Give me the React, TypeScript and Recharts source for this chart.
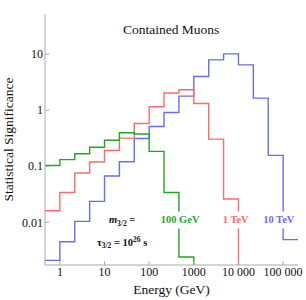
import { LineChart, Line, XAxis, YAxis, ReferenceDot } from "recharts";

const FONT = "'Liberation Serif', 'Times New Roman', serif";
const FRAME = "#a9a9a9";
const GREEN = "#1fa81f";
const RED = "#ff6b6b";
const BLUE = "#6a6aff";

// bin edges in GeV (three bins per decade)
const edges = [0.4642, 1, 2.154, 4.642, 10, 21.54, 46.42, 100, 215.4, 464.2, 1000, 2154, 4642, 10000, 21544, 46416, 100000, 215443];

// significance per bin, 0 = empty bin
const gev100 = [0.103, 0.131, 0.167, 0.218, 0.29, 0.395, 0.375, 0.184, 0.0341, 0.0024, 0, 0, 0, 0, 0, 0, 0];
const tev1 = [0.0161, 0.0341, 0.0757, 0.119, 0.191, 0.318, 0.579, 1.15, 2.02, 2.31, 1.32, 0.305, 0.026, 0, 0, 0, 0];
const tev10 = [0.00209, 0.00451, 0.0104, 0.0236, 0.0668, 0.12, 0.313, 0.512, 0.91, 1.78, 3.99, 7.91, 10.1, 6.44, 1.64, 0.156, 0.0049];

const xMajor = [1, 10, 100, 1000, 10000, 100000];
const yMajor = [0.01, 0.1, 1, 10];
const X_DOMAIN: [number, number] = [0.4642, 215443];
const Y_DOMAIN: [number, number] = [0.00173, 52];
const EMPTY = 1e-4; // sits below the frame, gets clipped

function minorTicks([lo, hi]: [number, number]) {
  const out: number[] = [];
  for (let p = Math.floor(Math.log10(lo)); p <= Math.ceil(Math.log10(hi)); p++) {
    for (let m = 2; m <= 9; m++) {
      const v = m * Math.pow(10, p);
      if (v >= lo && v <= hi) out.push(v);
    }
  }
  return out;
}
const xMinor = minorTicks(X_DOMAIN);
const yMinor = minorTicks(Y_DOMAIN);

const pick = (arr: number[], i: number) => {
  const v = arr[Math.min(i, arr.length - 1)];
  return v > 0 ? v : EMPTY;
};
const data = edges.map((e, i) => ({ e, g: pick(gev100, i), r: pick(tev1, i), b: pick(tev10, i) }));

const fmtX = (v: number) => (v >= 10000 ? String(v).replace(/\B(?=(\d{3})+$)/g, " ") : String(v));

const tickStyle = { fontSize: 12, fill: "#111", fontFamily: FONT };

const PlotTitle = ({ viewBox }: any) => (
  <text x={viewBox.x} y={viewBox.y + 4.5} textAnchor="middle" fontFamily={FONT} fontSize={13.5} fill="#111">
    Contained Muons
  </text>
);

const XTitle = ({ viewBox }: any) => (
  <text x={viewBox.x + viewBox.width / 2} y={viewBox.y + 29} textAnchor="middle" fontFamily={FONT} fontSize={13.5} fill="#111">
    Energy (GeV)
  </text>
);

const YTitle = ({ viewBox }: any) => {
  const x = 13;
  const y = viewBox.y + viewBox.height / 2;
  return (
    <text x={x} y={y} transform={`rotate(-90 ${x} ${y})`} textAnchor="middle" fontFamily={FONT} fontSize={13.5} fill="#111">
      Statistical Significance
    </text>
  );
};

const Tag = ({ viewBox, text, color, w }: any) => (
  <g>
    <rect x={viewBox.x - w / 2} y={viewBox.y - 8} width={w} height={17} fill="#fff" />
    <text x={viewBox.x} y={viewBox.y + 3.7} textAnchor="middle" fontFamily={FONT} fontWeight="bold" fontSize={10.5} fill={color}>
      {text}
    </text>
  </g>
);

const MassNote = ({ viewBox }: any) => (
  <text x={viewBox.x} y={viewBox.y + 3.7} textAnchor="middle" fontFamily={FONT} fontWeight="bold" fontSize={10.5} fill="#111">
    <tspan fontStyle="italic">m</tspan>
    <tspan fontSize={7.5} dy={2.5}>3/2</tspan>
    <tspan dy={-2.5}> =</tspan>
  </text>
);

const LifeNote = ({ viewBox }: any) => (
  <text x={viewBox.x} y={viewBox.y + 3.7} textAnchor="middle" fontFamily={FONT} fontWeight="bold" fontSize={10.5} fill="#111">
    <tspan>τ</tspan>
    <tspan fontSize={7.5} dy={2.5}>3/2</tspan>
    <tspan dy={-2.5}> = 10</tspan>
    <tspan fontSize={7.5} dy={-4}>26</tspan>
    <tspan dy={4}> s</tspan>
  </text>
);

export default function App() {
  return (
    <div style={{ position: "absolute", left: 0, top: 0 }}>
      <LineChart width={306} height={300} data={data} margin={{ top: 14, right: 8, bottom: 0, left: 0 }}>
        {/* minor ticks first so they sit right on the frame */}
        <XAxis xAxisId="xm" dataKey="e" type="number" scale="log" domain={X_DOMAIN} allowDataOverflow
          ticks={xMinor} interval={0} tick={false} tickSize={-2} tickLine={{ stroke: FRAME }} axisLine={false} height={0} />
        <XAxis xAxisId="x" dataKey="e" type="number" scale="log" domain={X_DOMAIN} allowDataOverflow
          ticks={xMajor} interval={0} tickFormatter={fmtX} tick={tickStyle} tickSize={-4} tickMargin={6}
          tickLine={{ stroke: FRAME }} axisLine={{ stroke: FRAME }} height={35} label={<XTitle />} />
        <XAxis xAxisId="xtm" orientation="top" dataKey="e" type="number" scale="log" domain={X_DOMAIN} allowDataOverflow
          ticks={xMinor} interval={0} tick={false} tickSize={-2} tickLine={{ stroke: FRAME }} axisLine={false} height={0} />
        <XAxis xAxisId="xt" orientation="top" dataKey="e" type="number" scale="log" domain={X_DOMAIN} allowDataOverflow
          ticks={xMajor} interval={0} tick={false} tickSize={-4} tickLine={{ stroke: FRAME }} axisLine={{ stroke: FRAME }}
          height={0} />

        <YAxis yAxisId="ym" type="number" scale="log" domain={Y_DOMAIN} allowDataOverflow
          ticks={yMinor} interval={0} tick={false} tickSize={-2} tickLine={{ stroke: FRAME }} axisLine={false} width={0} />
        <YAxis yAxisId="y" type="number" scale="log" domain={Y_DOMAIN} allowDataOverflow
          ticks={yMajor} interval={0} tick={tickStyle} tickSize={-4} tickMargin={6}
          tickLine={{ stroke: FRAME }} axisLine={{ stroke: FRAME }} width={45} label={<YTitle />} />
        <YAxis yAxisId="yrm" orientation="right" type="number" scale="log" domain={Y_DOMAIN} allowDataOverflow
          ticks={yMinor} interval={0} tick={false} tickSize={-2} tickLine={{ stroke: FRAME }} axisLine={false} width={0} />
        <YAxis yAxisId="yr" orientation="right" type="number" scale="log" domain={Y_DOMAIN} allowDataOverflow
          ticks={yMajor} interval={0} tick={false} tickSize={-4} tickLine={{ stroke: FRAME }} axisLine={{ stroke: FRAME }} width={0} />

        <Line xAxisId="x" yAxisId="y" type="stepAfter" dataKey="b" stroke={BLUE} strokeWidth={1.4} dot={false} isAnimationActive={false} />
        <Line xAxisId="x" yAxisId="y" type="stepAfter" dataKey="r" stroke={RED} strokeWidth={1.4} dot={false} isAnimationActive={false} />
        <Line xAxisId="x" yAxisId="y" type="stepAfter" dataKey="g" stroke={GREEN} strokeWidth={1.4} dot={false} isAnimationActive={false} />

        <ReferenceDot xAxisId="x" yAxisId="y" x={311} y={27.5} r={0} fill="none" stroke="none" label={<PlotTitle />} />
        <ReferenceDot xAxisId="x" yAxisId="y" x={24.8} y={0.0112} r={0} fill="none" stroke="none" label={<MassNote />} />
        <ReferenceDot xAxisId="x" yAxisId="y" x={24.8} y={0.00445} r={0} fill="none" stroke="none" label={<LifeNote />} />
        <ReferenceDot xAxisId="x" yAxisId="y" x={493} y={0.0112} r={0} fill="none" stroke="none"
          label={<Tag text="100 GeV" color={GREEN} w={43} />} />
        <ReferenceDot xAxisId="x" yAxisId="y" x={8670} y={0.0112} r={0} fill="none" stroke="none"
          label={<Tag text="1 TeV" color={RED} w={31} />} />
        <ReferenceDot xAxisId="x" yAxisId="y" x={80000} y={0.0112} r={0} fill="none" stroke="none"
          label={<Tag text="10 TeV" color={BLUE} w={35} />} />
      </LineChart>
    </div>
  );
}
